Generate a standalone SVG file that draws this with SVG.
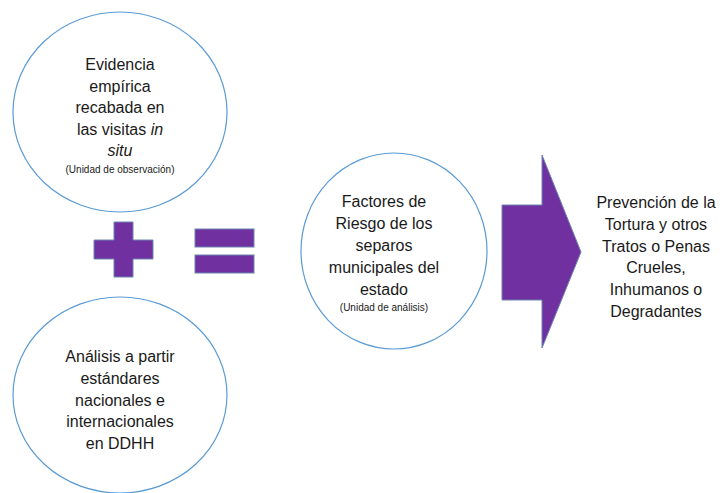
<svg xmlns="http://www.w3.org/2000/svg" width="725" height="493" viewBox="0 0 725 493">
<style>
.c{fill:#fff;stroke:#5B9BD5;stroke-width:1.2}
.p{fill:#7030A0;stroke:#6A84B0;stroke-width:1}
text{font-family:"Liberation Sans",Arial,sans-serif;font-size:16px;fill:#1a1a1a;text-anchor:middle}
.s{font-size:10px}
</style>
<rect width="725" height="493" fill="#fff"/>
<g id="evidencia">
<ellipse class="c" cx="120" cy="112" rx="107" ry="100"/>
<text x="120" y="70">Evidencia</text>
<text x="120" y="92">empírica</text>
<text x="120" y="113">recabada en</text>
<text x="120" y="135">las visitas <tspan font-style="italic">in</tspan></text>
<text x="120" y="156" font-style="italic">situ</text>
<text class="s" x="120" y="173">(Unidad de observación)</text>
</g>
<g id="analisis">
<ellipse class="c" cx="120" cy="395" rx="107" ry="98"/>
<text x="120" y="362">Análisis a partir</text>
<text x="120" y="384">estándares</text>
<text x="120" y="406">nacionales e</text>
<text x="120" y="427">internacionales</text>
<text x="120" y="449">en DDHH</text>
</g>
<g id="mas">
<path class="p" d="M114,222H133V240H153V259H133V277H114V259H94V240H114Z"/>
</g>
<g id="igual">
<rect class="p" x="195" y="229" width="59" height="18"/>
<rect class="p" x="195" y="255" width="59" height="18"/>
</g>
<g id="factores">
<ellipse class="c" cx="394" cy="251" rx="93" ry="98"/>
<text x="384" y="207">Factores de</text>
<text x="384" y="229">Riesgo de los</text>
<text x="384" y="251">separos</text>
<text x="384" y="273">municipales del</text>
<text x="384" y="295">estado</text>
<text class="s" x="384" y="311">(Unidad de análisis)</text>
</g>
<g id="flecha">
<path class="p" d="M502,205H542V155L581,252L542,348V300H502Z"/>
</g>
<g id="prevencion">
<text x="656" y="208">Prevención de la</text>
<text x="656" y="230">Tortura y otros</text>
<text x="656" y="252">Tratos o Penas</text>
<text x="656" y="273">Crueles,</text>
<text x="656" y="295">Inhumanos o</text>
<text x="656" y="317">Degradantes</text>
</g>
<g id="connectors"></g>
</svg>
